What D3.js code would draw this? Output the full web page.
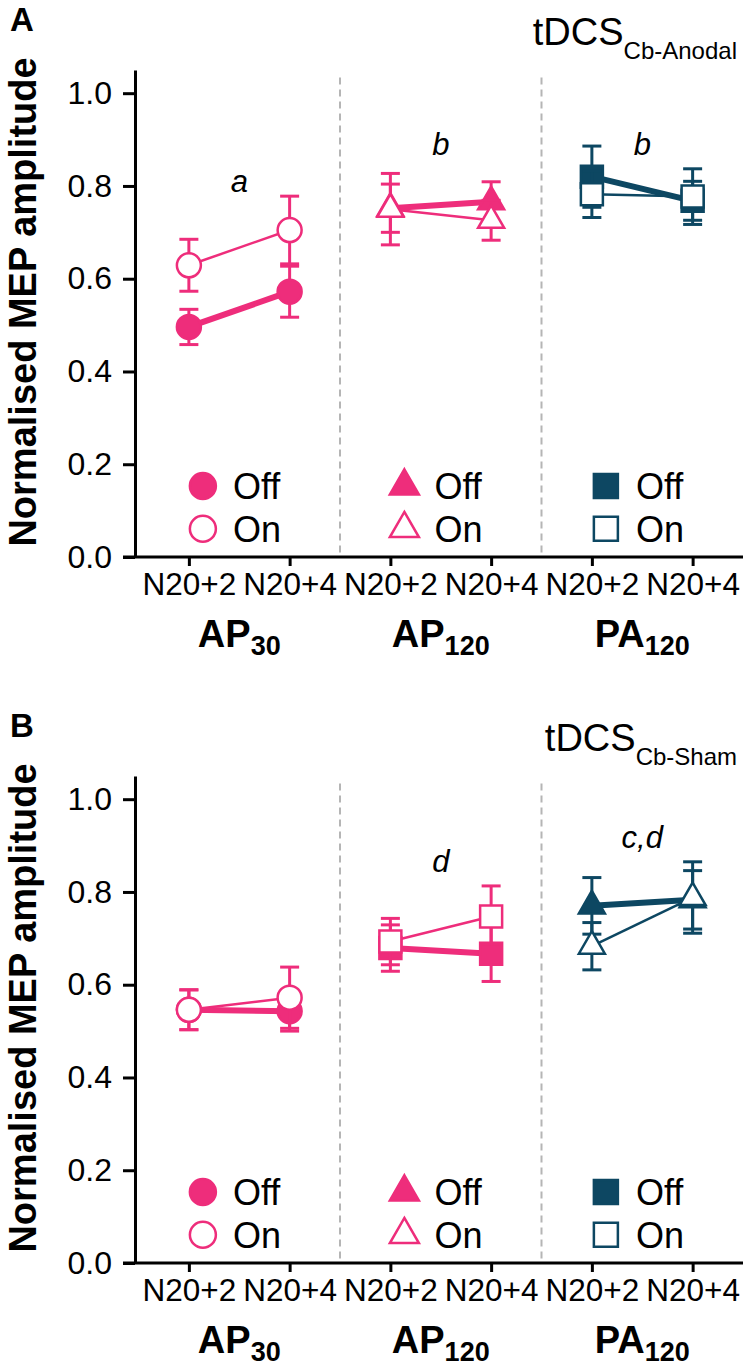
<!DOCTYPE html>
<html>
<head>
<meta charset="utf-8">
<script src="https://cdn.jsdelivr.net/npm/d3@7"></script>
<style>
  body { margin: 0; background: #fff; }
  svg text { font-family: Arial, "Liberation Sans", sans-serif; fill: #000; }
</style>
</head>
<body>
<div id="chart"></div>
<script>
// categories
var protocols = ["AP30", "AP120", "PA120"];
var protocolBase = ["AP", "AP", "PA"];
var protocolSub = ["30", "120", "120"];
var timepoints = ["N20+2", "N20+4"];
var yTicks = [0, 0.2, 0.4, 0.6, 0.8, 1.0];
var legendLabels = ["Off", "On"];

// panel A: tDCS Cb-Anodal (order: AP30 +2, +4, AP120 +2, +4, PA120 +2, +4)
var anodalOffMean = [0.496, 0.572, 0.752, 0.766, 0.820, 0.768];
var anodalOffSem  = [0.038, 0.055, 0.052, 0.043, 0.066, 0.042];
var anodalOnMean  = [0.629, 0.705, 0.750, 0.726, 0.782, 0.777];
var anodalOnSem   = [0.056, 0.073, 0.077, 0.043, 0.050, 0.060];
var anodalLetters = ["a", "b", "b"];
var anodalLetterY = [0.787, 0.866, 0.866];

// panel B: tDCS Cb-Sham
var shamOffMean = [0.546, 0.543, 0.679, 0.667, 0.770, 0.783];
var shamOffSem  = [0.043, 0.043, 0.050, 0.060, 0.061, 0.063];
var shamOnMean  = [0.546, 0.572, 0.693, 0.747, 0.683, 0.788];
var shamOnSem   = [0.043, 0.066, 0.050, 0.066, 0.051, 0.077];
var shamLetters = ["", "d", "c,d"];
var shamLetterY = [0, 0.844, 0.894];

var pink = "#EE2D7B", navy = "#0D4762";

function main() {
  var svg = d3.select("#chart").append("svg")
      .attr("width", 750)
      .attr("height", 1372);

  drawPanel(svg.append("g"), {
    letter: "A", sub: "Cb-Anodal",
    off: anodalOffMean, offSem: anodalOffSem,
    on: anodalOnMean, onSem: anodalOnSem,
    letters: anodalLetters, letterY: anodalLetterY,
    shapes: ["circle", "triangle", "square"],
    colors: [pink, pink, navy]
  });

  drawPanel(svg.append("g").attr("transform", "translate(0,706)"), {
    letter: "B", sub: "Cb-Sham",
    off: shamOffMean, offSem: shamOffSem,
    on: shamOnMean, onSem: shamOnSem,
    letters: shamLetters, letterY: shamLetterY,
    shapes: ["circle", "square", "triangle"],
    colors: [pink, pink, navy]
  });
}

function symbolFor(shape, big) {
  var type = d3.symbolCircle, size = big ? 531 : 452;
  if (shape == "triangle") { type = d3.symbolTriangle; size = big ? 364 : 293; }
  if (shape == "square") { type = d3.symbolSquare; size = big ? 576 : 484; }
  return d3.symbol().type(type).size(size)();
}

function drawPanel(g, p) {
  var y = d3.scaleLinear().domain([0, 1.05]).range([557, 70]);

  var keys = [];
  protocols.forEach(function(pr) {
    timepoints.forEach(function(t) { keys.push(pr + "|" + t); });
  });
  var x = d3.scalePoint().domain(keys).range([138.5, 743]).padding(0.5);
  var step = x.step();

  //dashed separators between protocols
  g.selectAll(".sep")
     .data(protocols.slice(0, -1))
     .enter().append("line")
        .attr("class", "sep")
        .attr("x1", function(d) { return x(d + "|" + timepoints[1]) + step / 2; })
        .attr("x2", function(d) { return x(d + "|" + timepoints[1]) + step / 2; })
        .attr("y1", y(1.034))
        .attr("y2", y(0))
        .attr("stroke", "#b5b5b5")
        .attr("stroke-width", 2)
        .attr("stroke-dasharray", "7,5");

  //y axis
  var yAxis = d3.axisLeft(y)
     .tickValues(yTicks)
     .tickFormat(d3.format(".1f"))
     .tickSizeInner(12)
     .tickSizeOuter(0)
     .tickPadding(11);
  var ya = g.append("g")
     .attr("transform", "translate(135,0)")
     .call(yAxis);
  ya.select(".domain").attr("stroke", "#000").attr("stroke-width", 3);
  ya.selectAll(".tick line").attr("stroke", "#000").attr("stroke-width", 3);
  ya.selectAll(".tick text")
     .attr("font-size", 32)
     .attr("font-family", "Arial, Liberation Sans, sans-serif")
     .attr("fill", "#000");

  //x axis
  g.append("line")
     .attr("x1", 123).attr("x2", 743)
     .attr("y1", y(0)).attr("y2", y(0))
     .attr("stroke", "#000").attr("stroke-width", 3);
  var xAxis = d3.axisBottom(x)
     .tickFormat(function(d) { return d.split("|")[1]; })
     .tickSizeInner(9)
     .tickSizeOuter(0)
     .tickPadding(7);
  var xa = g.append("g")
     .attr("transform", "translate(0," + y(0) + ")")
     .call(xAxis);
  xa.select(".domain").remove();
  xa.selectAll(".tick line").attr("stroke", "#000").attr("stroke-width", 3);
  xa.selectAll(".tick text")
     .attr("font-size", 31.5)
     .attr("font-family", "Arial, Liberation Sans, sans-serif")
     .attr("fill", "#000");

  //protocol labels with subscripts
  var gl = g.selectAll(".grp")
     .data(protocols)
     .enter().append("text")
        .attr("class", "grp")
        .attr("x", function(d) { return x(d + "|" + timepoints[0]) + step / 2; })
        .attr("y", 647)
        .attr("text-anchor", "middle")
        .attr("font-weight", "bold");
  gl.append("tspan")
     .attr("font-size", 38)
     .text(function(d, i) { return protocolBase[i]; });
  gl.append("tspan")
     .attr("font-size", 27)
     .attr("dy", 8)
     .text(function(d, i) { return protocolSub[i]; });

  //y label
  g.append("text")
     .attr("transform", "translate(36,302) rotate(-90)")
     .attr("text-anchor", "middle")
     .attr("font-size", 38)
     .attr("font-weight", "bold")
     .text("Normalised MEP amplitude");

  //panel letter
  g.append("text")
     .attr("x", 10).attr("y", 31)
     .attr("font-size", 33)
     .attr("font-weight", "bold")
     .text(p.letter);

  //title
  var tt = g.append("text")
     .attr("x", 737).attr("y", 45)
     .attr("text-anchor", "end");
  tt.append("tspan").attr("font-size", 38).text("tDCS");
  tt.append("tspan").attr("font-size", 24).attr("dy", 14).text(p.sub);

  //significance letters
  g.selectAll(".sig")
     .data(p.letters)
     .enter().append("text")
        .attr("class", "sig")
        .attr("x", function(d, i) { return x(protocols[i] + "|" + timepoints[0]) + step / 2; })
        .attr("y", function(d, i) { return y(p.letterY[i]); })
        .attr("text-anchor", "middle")
        .attr("font-size", 31)
        .attr("font-style", "italic")
        .text(function(d) { return d; });

  //series per protocol
  protocols.forEach(function(pr, gi) {
    var color = p.colors[gi];
    var k0 = pr + "|" + timepoints[0], k1 = pr + "|" + timepoints[1];
    var series = [
      {mean: p.off, sem: p.offSem, filled: true, width: 6},
      {mean: p.on, sem: p.onSem, filled: false, width: 2.5}
    ];

    //connecting lines (thin On first, thick Off on top)
    [series[1], series[0]].forEach(function(s) {
      g.append("line")
         .attr("x1", x(k0)).attr("y1", y(s.mean[gi * 2]))
         .attr("x2", x(k1)).attr("y2", y(s.mean[gi * 2 + 1]))
         .attr("stroke", color)
         .attr("stroke-width", s.width);
    });

    series.forEach(function(s) {
      var pts = [0, 1].map(function(j) {
        return {x: x(pr + "|" + timepoints[j]), m: s.mean[gi * 2 + j], e: s.sem[gi * 2 + j]};
      });
      //error bars
      pts.forEach(function(d) {
        g.append("line")
           .attr("x1", d.x).attr("x2", d.x)
           .attr("y1", y(d.m - d.e)).attr("y2", y(d.m + d.e))
           .attr("stroke", color).attr("stroke-width", 3);
        [d.m - d.e, d.m + d.e].forEach(function(v) {
          g.append("line")
             .attr("x1", d.x - 9.5).attr("x2", d.x + 9.5)
             .attr("y1", y(v)).attr("y2", y(v))
             .attr("stroke", color).attr("stroke-width", 3);
        });
      });
      //markers
      g.selectAll(null)
         .data(pts)
         .enter().append("path")
            .attr("d", symbolFor(p.shapes[gi], false))
            .attr("transform", function(d) { return "translate(" + d.x + "," + y(d.m) + ")"; })
            .attr("fill", s.filled ? color : "#fff")
            .attr("stroke", color)
            .attr("stroke-width", 2.5);
    });

    //legend (legend shapes are circle / triangle / square in both panels)
    var legendShapes = ["circle", "triangle", "square"];
    legendLabels.forEach(function(lab, li) {
      var ly = y(li == 0 ? 0.153 : 0.061);
      g.append("path")
         .attr("d", symbolFor(legendShapes[gi], true))
         .attr("transform", "translate(" + (x(k0) + 14) + "," + ly + ")")
         .attr("fill", li == 0 ? color : "#fff")
         .attr("stroke", color)
         .attr("stroke-width", 2.5);
      g.append("text")
         .attr("x", x(k0) + 44)
         .attr("y", ly)
         .attr("dy", "0.36em")
         .attr("font-size", 36)
         .text(lab);
    });
  });
}

main();
</script>
</body>
</html>
